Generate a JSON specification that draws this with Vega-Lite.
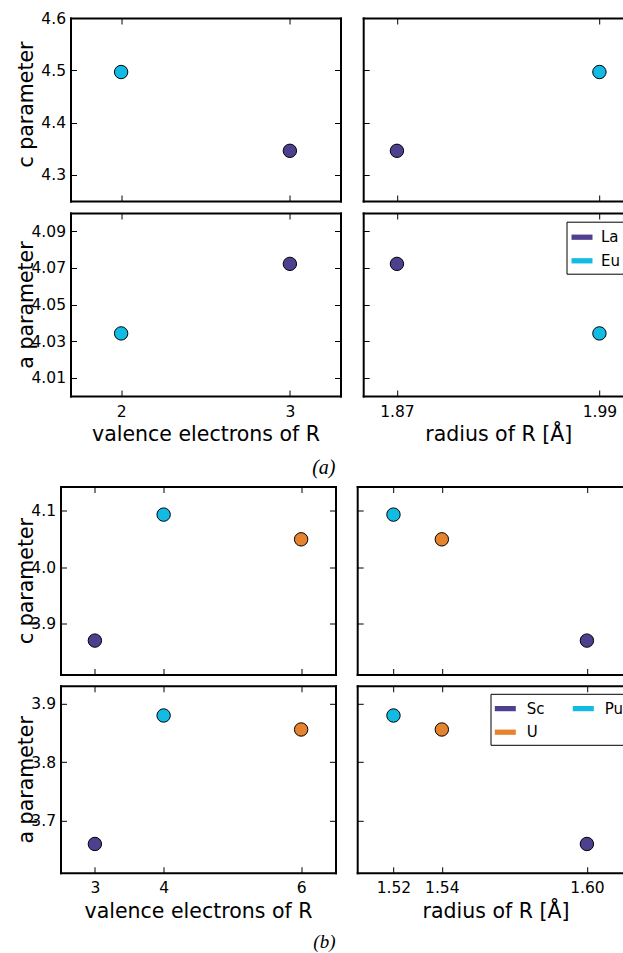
{
  "$schema": "https://vega.github.io/schema/vega-lite/v6.json",
  "padding": {"left": 14.5, "top": 11, "right": 0, "bottom": 0},
  "background": "white",
  "datasets": {
    "a": [
      {"element": "La", "valence": 3, "radius": 1.87, "c": 4.346, "a": 4.0722},
      {"element": "Eu", "valence": 2, "radius": 1.99, "c": 4.4967, "a": 4.0342}
    ],
    "b": [
      {"element": "Sc", "valence": 3, "radius": 1.60, "c": 3.8707, "a": 3.6595},
      {"element": "Pu", "valence": 4, "radius": 1.52, "c": 4.0925, "a": 3.880},
      {"element": "U", "valence": 6, "radius": 1.54, "c": 4.049, "a": 3.856}
    ]
  },
  "concat": [
    {"width": 1, "height": 1, "data": {"values": [{}]}, "mark": {"type": "point", "opacity": 0, "size": 0, "strokeWidth": 0}, "encoding": {}},
    {
      "columns": 2,
      "spacing": {"row": 10, "column": 20.7},
      "resolve": {"scale": {"color": "independent"}, "legend": {"color": "independent"}},
      "concat": [
        {
          "width": 270, "height": 183, "data": {"name": "a"},
          "layer": [
            {"mark": {"type": "point"}, "encoding": {
              "x": {"field": "valence", "type": "quantitative", "scale": {"domain": [1.7, 3.3], "nice": false}, "axis": {"orient": "bottom", "values": [2, 3], "labels": false, "title": null}},
              "y": {"field": "c", "type": "quantitative", "scale": {"domain": [4.25, 4.6], "nice": false}, "axis": {"orient": "left", "values": [4.3, 4.4, 4.5, 4.6], "format": ".1f", "title": "c parameter", "titleX": -44.5, "titleY": 86, "titleBaseline": "middle"}},
              "color": {"field": "element", "type": "nominal", "scale": {"domain": ["La", "Eu"], "range": ["#4F3F8F", "#12BBE3"]}, "legend": null}}},
            {"mark": {"type": "point", "opacity": 0}, "encoding": {
              "x": {"field": "valence", "type": "quantitative", "scale": {"domain": [1.7, 3.3], "nice": false}, "axis": {"orient": "top", "values": [2, 3], "labels": false, "title": null}},
              "y": {"field": "c", "type": "quantitative", "scale": {"domain": [4.25, 4.6], "nice": false}, "axis": {"orient": "right", "values": [4.3, 4.4, 4.5, 4.6], "labels": false, "title": null}}}}
          ],
          "resolve": {"axis": {"x": "independent", "y": "independent"}}
        },
        {
          "width": 259, "height": 183, "data": {"name": "a"},
          "layer": [
            {"mark": {"type": "point"}, "encoding": {
              "x": {"field": "radius", "type": "quantitative", "scale": {"domain": [1.85, 2.0035], "nice": false}, "axis": {"orient": "bottom", "values": [1.87, 1.99], "labels": false, "title": null}},
              "y": {"field": "c", "type": "quantitative", "scale": {"domain": [4.25, 4.6], "nice": false}, "axis": {"orient": "left", "values": [4.3, 4.4, 4.5, 4.6], "labels": false, "title": null}},
              "color": {"field": "element", "type": "nominal", "scale": {"domain": ["La", "Eu"], "range": ["#4F3F8F", "#12BBE3"]}, "legend": null}}},
            {"mark": {"type": "point", "opacity": 0}, "encoding": {
              "x": {"field": "radius", "type": "quantitative", "scale": {"domain": [1.85, 2.0035], "nice": false}, "axis": {"orient": "top", "values": [1.87, 1.99], "labels": false, "title": null}}}}
          ],
          "resolve": {"axis": {"x": "independent", "y": "independent"}}
        },
        {
          "width": 270, "height": 183, "data": {"name": "a"},
          "title": {"text": "(a)", "orient": "bottom", "anchor": "end", "frame": "group", "offset": 13, "dx": -5, "font": "Liberation Serif", "fontStyle": "italic", "fontSize": 20, "fontWeight": "normal", "color": "black"},
          "layer": [
            {"mark": {"type": "point"}, "encoding": {
              "x": {"field": "valence", "type": "quantitative", "scale": {"domain": [1.7, 3.3], "nice": false}, "axis": {"orient": "bottom", "values": [2, 3], "format": "d", "title": "valence electrons of R"}},
              "y": {"field": "a", "type": "quantitative", "scale": {"domain": [4.0, 4.1], "nice": false}, "axis": {"orient": "left", "values": [4.01, 4.03, 4.05, 4.07, 4.09], "format": ".2f", "title": "a parameter", "titleX": -44.5, "titleBaseline": "middle"}},
              "color": {"field": "element", "type": "nominal", "scale": {"domain": ["La", "Eu"], "range": ["#4F3F8F", "#12BBE3"]}, "legend": null}}},
            {"mark": {"type": "point", "opacity": 0}, "encoding": {
              "x": {"field": "valence", "type": "quantitative", "scale": {"domain": [1.7, 3.3], "nice": false}, "axis": {"orient": "top", "values": [2, 3], "labels": false, "title": null}},
              "y": {"field": "a", "type": "quantitative", "scale": {"domain": [4.0, 4.1], "nice": false}, "axis": {"orient": "right", "values": [4.01, 4.03, 4.05, 4.07, 4.09], "labels": false, "title": null}}}}
          ],
          "resolve": {"axis": {"x": "independent", "y": "independent"}}
        },
        {
          "width": 259, "height": 183, "data": {"name": "a"},
          "layer": [
            {"mark": {"type": "point"}, "encoding": {
              "x": {"field": "radius", "type": "quantitative", "scale": {"domain": [1.85, 2.0035], "nice": false}, "axis": {"orient": "bottom", "values": [1.87, 1.99], "format": ".2f", "title": "radius of R [Å]", "titleX": 135}},
              "y": {"field": "a", "type": "quantitative", "scale": {"domain": [4.0, 4.1], "nice": false}, "axis": {"orient": "left", "values": [4.01, 4.03, 4.05, 4.07, 4.09], "labels": false, "title": null}},
              "color": {"field": "element", "type": "nominal", "scale": {"domain": ["La", "Eu"], "range": ["#4F3F8F", "#12BBE3"]},
                "legend": {"orient": "none", "legendX": 203.3, "legendY": 8.7, "title": null, "padding": 4.5, "rowPadding": 4.6, "labelOffset": 8, "strokeColor": "black", "symbolStrokeColor": "transparent", "symbolStrokeWidth": 0,
                  "encode": {"legend": {"strokeWidth": {"value": 2}}, "symbols": {"size": {"value": 441}, "strokeWidth": {"value": 0}, "stroke": {"value": "transparent"}, "shape": {"value": "M-1,-0.25H1V0.25H-1Z"}}}}}}},
            {"mark": {"type": "point", "opacity": 0}, "encoding": {
              "x": {"field": "radius", "type": "quantitative", "scale": {"domain": [1.85, 2.0035], "nice": false}, "axis": {"orient": "top", "values": [1.87, 1.99], "labels": false, "title": null}}}}
          ],
          "resolve": {"axis": {"x": "independent", "y": "independent"}}
        }
      ]
    },
    {"width": 1, "height": 1, "data": {"values": [{}]}, "mark": {"type": "point", "opacity": 0, "size": 0, "strokeWidth": 0}, "encoding": {}},
    {
      "columns": 2,
      "spacing": {"row": 9.3, "column": 19.7},
      "resolve": {"scale": {"color": "independent"}, "legend": {"color": "independent"}},
      "concat": [
        {
          "width": 275, "height": 188, "data": {"name": "b"},
          "layer": [
            {"mark": {"type": "point"}, "encoding": {
              "x": {"field": "valence", "type": "quantitative", "scale": {"domain": [2.5, 6.5], "nice": false}, "axis": {"orient": "bottom", "values": [3, 4, 6], "labels": false, "title": null}},
              "y": {"field": "c", "type": "quantitative", "scale": {"domain": [3.811, 4.142], "nice": false}, "axis": {"orient": "left", "values": [3.9, 4.0, 4.1], "format": ".1f", "title": "c parameter", "titleX": -34.3, "titleBaseline": "middle"}},
              "color": {"field": "element", "type": "nominal", "scale": {"domain": ["Sc", "U", "Pu"], "range": ["#4F3F8F", "#E6832F", "#12BBE3"]}, "legend": null}}},
            {"mark": {"type": "point", "opacity": 0}, "encoding": {
              "x": {"field": "valence", "type": "quantitative", "scale": {"domain": [2.5, 6.5], "nice": false}, "axis": {"orient": "top", "values": [3, 4, 6], "labels": false, "title": null}},
              "y": {"field": "c", "type": "quantitative", "scale": {"domain": [3.811, 4.142], "nice": false}, "axis": {"orient": "right", "values": [3.9, 4.0, 4.1], "labels": false, "title": null}}}}
          ],
          "resolve": {"axis": {"x": "independent", "y": "independent"}}
        },
        {
          "width": 265, "height": 188, "data": {"name": "b"},
          "layer": [
            {"mark": {"type": "point"}, "encoding": {
              "x": {"field": "radius", "type": "quantitative", "scale": {"domain": [1.505, 1.6146], "nice": false}, "axis": {"orient": "bottom", "values": [1.52, 1.54, 1.60], "labels": false, "title": null}},
              "y": {"field": "c", "type": "quantitative", "scale": {"domain": [3.811, 4.142], "nice": false}, "axis": {"orient": "left", "values": [3.9, 4.0, 4.1], "labels": false, "title": null}},
              "color": {"field": "element", "type": "nominal", "scale": {"domain": ["Sc", "U", "Pu"], "range": ["#4F3F8F", "#E6832F", "#12BBE3"]}, "legend": null}}},
            {"mark": {"type": "point", "opacity": 0}, "encoding": {
              "x": {"field": "radius", "type": "quantitative", "scale": {"domain": [1.505, 1.6146], "nice": false}, "axis": {"orient": "top", "values": [1.52, 1.54, 1.60], "labels": false, "title": null}}}}
          ],
          "resolve": {"axis": {"x": "independent", "y": "independent"}}
        },
        {
          "width": 275, "height": 187, "data": {"name": "b"},
          "title": {"text": "(b)", "orient": "bottom", "anchor": "end", "frame": "group", "offset": 11, "dx": 0, "font": "Liberation Serif", "fontStyle": "italic", "fontSize": 19, "fontWeight": "normal", "color": "black"},
          "layer": [
            {"mark": {"type": "point"}, "encoding": {
              "x": {"field": "valence", "type": "quantitative", "scale": {"domain": [2.5, 6.5], "nice": false}, "axis": {"orient": "bottom", "values": [3, 4, 6], "format": "d", "title": "valence electrons of R"}},
              "y": {"field": "a", "type": "quantitative", "scale": {"domain": [3.61, 3.931], "nice": false}, "axis": {"orient": "left", "values": [3.7, 3.8, 3.9], "format": ".1f", "title": "a parameter", "titleX": -34.3, "titleBaseline": "middle"}},
              "color": {"field": "element", "type": "nominal", "scale": {"domain": ["Sc", "U", "Pu"], "range": ["#4F3F8F", "#E6832F", "#12BBE3"]}, "legend": null}}},
            {"mark": {"type": "point", "opacity": 0}, "encoding": {
              "x": {"field": "valence", "type": "quantitative", "scale": {"domain": [2.5, 6.5], "nice": false}, "axis": {"orient": "top", "values": [3, 4, 6], "labels": false, "title": null}},
              "y": {"field": "a", "type": "quantitative", "scale": {"domain": [3.61, 3.931], "nice": false}, "axis": {"orient": "right", "values": [3.7, 3.8, 3.9], "labels": false, "title": null}}}}
          ],
          "resolve": {"axis": {"x": "independent", "y": "independent"}}
        },
        {
          "width": 265, "height": 187, "data": {"name": "b"},
          "layer": [
            {"mark": {"type": "point"}, "encoding": {
              "x": {"field": "radius", "type": "quantitative", "scale": {"domain": [1.505, 1.6146], "nice": false}, "axis": {"orient": "bottom", "values": [1.52, 1.54, 1.60], "format": ".2f", "title": "radius of R [Å]", "titleX": 138.3}},
              "y": {"field": "a", "type": "quantitative", "scale": {"domain": [3.61, 3.931], "nice": false}, "axis": {"orient": "left", "values": [3.7, 3.8, 3.9], "labels": false, "title": null}},
              "color": {"field": "element", "type": "nominal", "scale": {"domain": ["Sc", "U", "Pu"], "range": ["#4F3F8F", "#E6832F", "#12BBE3"]},
                "legend": {"orient": "none", "legendX": 133.3, "legendY": 8, "title": null, "columns": 2, "columnPadding": 25, "padding": 3.8, "rowPadding": 4.6, "labelOffset": 10.5, "strokeColor": "black", "symbolStrokeColor": "transparent", "symbolStrokeWidth": 0,
                  "encode": {"legend": {"strokeWidth": {"value": 2}}, "symbols": {"size": {"value": 441}, "strokeWidth": {"value": 0}, "stroke": {"value": "transparent"}, "shape": {"value": "M-1,-0.25H1V0.25H-1Z"}}}}}}},
            {"mark": {"type": "point", "opacity": 0}, "encoding": {
              "x": {"field": "radius", "type": "quantitative", "scale": {"domain": [1.505, 1.6146], "nice": false}, "axis": {"orient": "top", "values": [1.52, 1.54, 1.60], "labels": false, "title": null}}}}
          ],
          "resolve": {"axis": {"x": "independent", "y": "independent"}}
        }
      ]
    }
  ],
  "columns": 2,
  "align": "none",
  "spacing": {"row": 7.5, "column": 0},
  "resolve": {"scale": {"color": "independent"}, "legend": {"color": "independent"}},
  "config": {
    "view": {"stroke": null},
    "point": {"filled": true, "size": 180, "stroke": "black", "strokeWidth": 1, "opacity": 1},
    "axis": {"domainColor": "black", "domainWidth": 2, "domainCap": "square", "tickColor": "black", "tickWidth": 1, "tickSize": -6, "grid": false, "labelFont": "DejaVu Sans", "labelFontSize": 15.5, "labelColor": "black", "labelFlush": false, "labelOverlap": false, "titleFont": "DejaVu Sans", "titleFontSize": 20.5, "titleFontWeight": "normal", "titleColor": "black"},
    "axisX": {"labelPadding": 14, "titlePadding": 5},
    "axisY": {"labelPadding": 11},
    "legend": {"labelFont": "DejaVu Sans", "labelFontSize": 15, "labelColor": "black", "symbolType": "M-1,-0.25H1V0.25H-1Z", "symbolSize": 441, "symbolStrokeWidth": 0, "symbolOpacity": 1}
  }
}
